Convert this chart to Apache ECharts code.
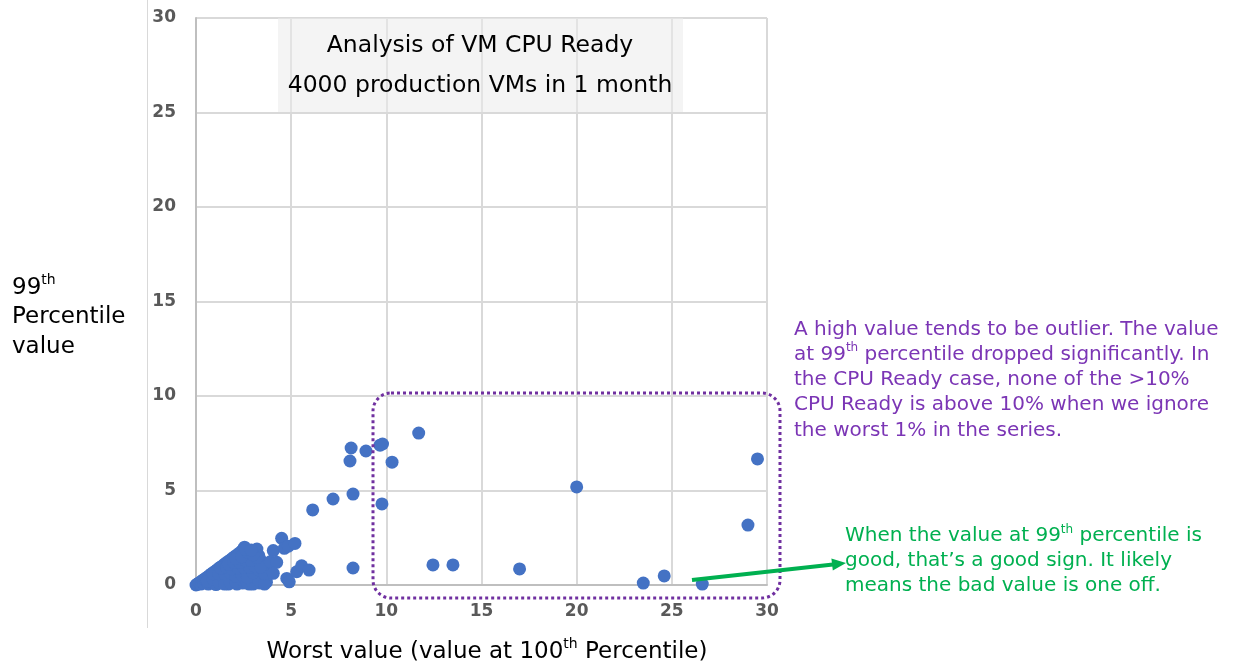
<!DOCTYPE html>
<html>
<head>
<meta charset="utf-8">
<script src="https://cdn.jsdelivr.net/npm/echarts@6/dist/echarts.min.js"></script>
<style>html,body{margin:0;padding:0;background:#fff;}#main{width:1239px;height:664px;}</style>
</head>
<body>
<div id="main"></div>
<script>
// Worst value (100th percentile) and 99th percentile value per VM
var worstValue = [
  0,0.05,0.1,0.15,0.2,0.25,0.3,0.35,0.4,0.45,0.5,0.55,0.6,0.65,0.7,0.75,0.8,0.85,0.9,0.95,
  1.0,1.0,1.05,1.1,1.15,1.2,1.2,1.25,1.3,1.35,1.4,1.4,1.45,1.5,1.55,1.6,1.6,1.65,1.7,1.7,
  1.75,1.8,1.8,1.85,1.9,1.9,1.95,2.0,2.0,2.05,2.1,2.1,2.15,2.2,2.2,2.25,2.3,2.3,2.35,2.4,
  2.4,2.45,2.5,2.5,2.55,2.6,2.6,2.65,2.7,2.75,2.8,2.8,2.85,2.9,2.95,3.0,3.0,3.05,3.1,3.15,
  3.2,3.2,3.25,3.3,3.35,3.4,3.45,3.5,3.55,3.6,3.7,3.75,2.55,
  0.6,0.9,1.2,1.5,1.8,2.1,2.4,2.7,3.0,3.3,3.6,
  0.9,1.2,1.5,1.8,2.1,2.4,2.7,3.0,3.3,3.6,
  1.3,1.6,1.9,2.2,2.5,2.8,3.1,3.4,
  1.7,2.0,2.3,2.6,2.9,3.2,
  2.1,2.4,2.7,3.0,2.6,2.9,
  4.06,4.5,4.64,4.85,5.2,3.9,4.24,4.06,4.77,4.9,5.29,5.55,5.94,6.13,7.2,8.25,8.09,8.15,8.93,
  9.67,9.8,9.77,10.3,11.7,8.25,12.45,13.5,17.0,20.0,23.5,24.6,26.6,29.0,29.5
];
var p99Value = [
  0,0.03,0.06,0.1,0.12,0.05,0.2,0.25,0.1,0.3,0.35,0.2,0.42,0.05,0.5,0.3,0.58,0.15,0.65,0.45,
  0.72,0.25,0.02,0.8,0.55,0.88,0.35,0.1,0.95,0.7,1.02,0.45,0.2,1.1,0.85,1.18,0.6,0.3,1.25,0.05,
  0.95,1.32,0.5,0.75,1.4,0.2,1.1,1.48,0.4,0.85,1.55,1.2,0.05,1.62,0.6,1.0,1.7,0.3,1.35,1.78,
  0.8,0.1,1.9,1.5,0.55,1.75,1.1,0.25,1.55,0.85,1.3,0.05,1.7,0.5,1.05,1.45,0.2,0.75,1.7,1.25,
  1.9,0.4,1.0,1.55,0.1,1.3,0.6,1.05,0.3,0.85,0.15,0.5,2.0,
  0.2,0.3,0.15,0.05,0.1,0.15,0.3,0.1,0.05,0.25,0.05,
  0.6,0.6,0.6,0.65,0.45,0.55,0.4,0.65,0.8,0.6,
  0.9,0.95,0.85,0.9,0.95,0.95,1.0,0.95,
  1.1,1.2,1.2,1.3,1.3,1.45,
  1.4,1.5,1.75,1.6,1.9,1.85,
  1.82,2.47,1.94,2.05,2.2,1.23,1.2,0.62,0.35,0.17,0.7,1.02,0.79,3.97,4.55,4.81,6.56,7.25,7.09,
  7.4,7.46,4.29,6.5,8.04,0.9,1.06,1.06,0.85,5.19,0.1,0.48,0.05,3.17,6.67
];
var axisTicks = [0, 5, 10, 15, 20, 25, 30];
var titleLines = ['Analysis of VM CPU Ready', '4000 production VMs in 1 month'];
var purpleNote = [
  '{t|A high value tends to be outlier. The value}',
  '{t|at 99}{s|th}{t| percentile dropped significantly. In}',
  '{t|the CPU Ready case, none of the >10%}',
  '{t|CPU Ready is above 10% when we ignore}',
  '{t|the worst 1% in the series.}'
];
var greenNote = [
  '{t|When the value at 99}{s|th}{t| percentile is}',
  '{t|good, that\u2019s a good sign. It likely}',
  '{t|means the bad value is one off.}'
];

var points = worstValue.map(function (x, i) { return [x, p99Value[i]]; });
var FONT = 'DejaVu Sans';
var PURPLE = '#7B35B5', GREEN = '#00B050';

var chart = echarts.init(document.getElementById('main'));
function axisCfg() {
  return {
    type: 'value', min: axisTicks[0], max: axisTicks[axisTicks.length - 1], interval: 5,
    axisLine: { show: true, lineStyle: { color: '#bfbfbf', width: 2 } },
    axisTick: { show: false },
    splitLine: { show: true, lineStyle: { color: '#d9d9d9', width: 2 } },
    axisLabel: { color: '#595959', fontSize: 17, fontWeight: 'bold', fontFamily: FONT }
  };
}
var xA = axisCfg(); xA.axisLabel.margin = 18;
var yA = axisCfg(); yA.axisLabel.margin = 20;

function richText(lines, color, size, lh) {
  return {
    text: lines.join('\n'),
    rich: {
      t: { fontSize: size, fontFamily: FONT, fill: color, lineHeight: lh, verticalAlign: 'bottom' },
      s: { fontSize: Math.round(size * 0.62), fontFamily: FONT, fill: color, lineHeight: lh, verticalAlign: 'top', padding: [Math.round(lh*0.1),0,0,0] }
    }
  };
}

var purple = richText(purpleNote, PURPLE, 20, 25.3);
var green = richText(greenNote, GREEN, 20, 25);
var yname = richText(['{t|99}{s|th}', '{t|Percentile}', '{t|value}'], '#000', 23, 29.5);
var xname = richText(['{t|Worst value (value at 100}{s|th}{t| Percentile)}'], '#000', 23, 30);

chart.setOption({
  animation: false,
  grid: { left: 196, right: 472, top: 18, bottom: 79 },
  xAxis: xA,
  yAxis: yA,
  series: [{
    type: 'scatter', data: points, symbolSize: 13,
    itemStyle: { color: '#4472C4', opacity: 1 }
  }],
  graphic: [
    { type: 'line', shape: { x1: 147.5, y1: 0, x2: 147.5, y2: 628 }, style: { stroke: '#d9d9d9', lineWidth: 1 }, z: 1 },
    { type: 'rect', shape: { x: 278, y: 18, width: 405, height: 94 }, style: { fill: 'rgba(235,235,235,0.55)' }, z: 1 },
    { type: 'text', style: { x: 480, y: 46, text: titleLines[0], font: '23.5px "' + FONT + '"', fill: '#000', textAlign: 'center', textVerticalAlign: 'middle' }, z: 5 },
    { type: 'text', style: { x: 480, y: 86, text: titleLines[1], font: '23.5px "' + FONT + '"', fill: '#000', textAlign: 'center', textVerticalAlign: 'middle' }, z: 5 },
    { type: 'rect', shape: { x: 373, y: 393, width: 407, height: 205, r: 18 }, style: { fill: 'none', stroke: '#7030A0', lineWidth: 3, lineDash: [3, 3] }, z: 5 },
    { type: 'text', style: Object.assign({ x: 794, y: 314, textAlign: 'left', textVerticalAlign: 'top' }, purple), z: 5 },
    { type: 'text', style: Object.assign({ x: 845, y: 521, textAlign: 'left', textVerticalAlign: 'top' }, green), z: 5 },
    { type: 'text', style: Object.assign({ x: 12, y: 270, textAlign: 'left', textVerticalAlign: 'top' }, yname), z: 5 },
    { type: 'text', style: Object.assign({ x: 487, y: 634, textAlign: 'center', textVerticalAlign: 'top' }, xname), z: 5 },
    { type: 'line', shape: { x1: 692, y1: 580, x2: 833, y2: 564.4 }, style: { stroke: GREEN, lineWidth: 4 }, z: 6 },
    { type: 'polygon', shape: { points: [[846, 563], [832.8, 570.5], [831.4, 558.5]] }, style: { fill: GREEN }, z: 6 }
  ]
});
</script>
</body>
</html>
